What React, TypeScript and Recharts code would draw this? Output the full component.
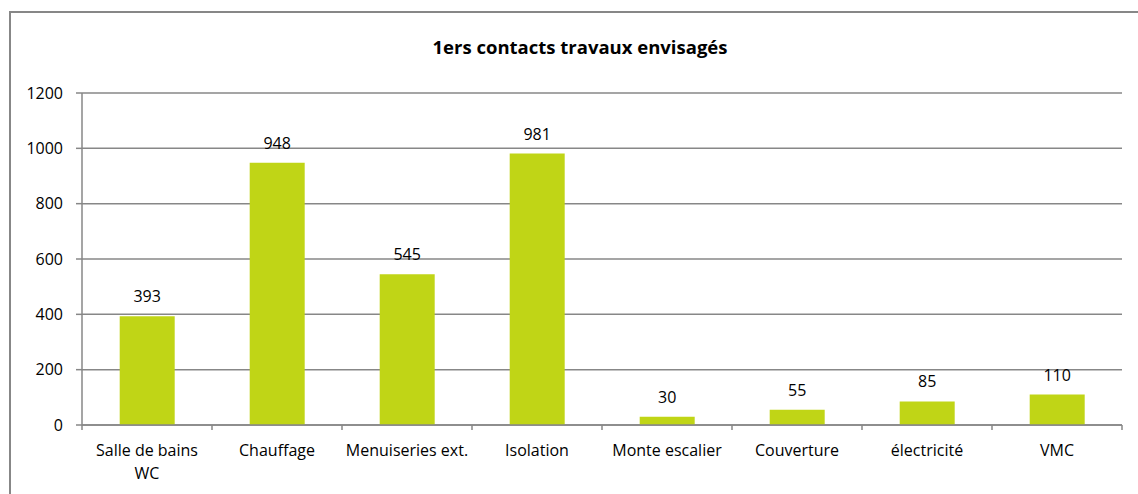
import React from "react";
import { BarChart, Bar, XAxis, YAxis, CartesianGrid, LabelList } from "recharts";

const categories = [
  "Salle de bains\nWC",
  "Chauffage",
  "Menuiseries ext.",
  "Isolation",
  "Monte escalier",
  "Couverture",
  "électricité",
  "VMC",
];
const values = [393, 948, 545, 981, 30, 55, 85, 110];
const yTicks = [0, 200, 400, 600, 800, 1000, 1200];
const title = "1ers contacts travaux envisagés";

const data = categories.map((c, i) => ({ name: c, value: values[i] }));

const W = 1138;
const H = 494;
const xAxisHeight = 30;
const margin = { top: 93, right: 16, bottom: 69 - xAxisHeight, left: 32 };
const yAxisWidth = 50;
const plotWidth = W - margin.left - margin.right - yAxisWidth;
const band = plotWidth / categories.length;
const FONT = "'Open Sans', sans-serif";
const GREY = "#878787";

const CatTick = (props: any) => {
  const { x, y, payload, index } = props;
  const lines = String(payload.value).split("\n");
  const top = y - 8; // axis line position
  return (
    <g>
      <line x1={x - band / 2} x2={x - band / 2} y1={top} y2={top + 5} stroke={GREY} strokeWidth={1.5} />
      {index === categories.length - 1 && (
        <line x1={x + band / 2} x2={x + band / 2} y1={top} y2={top + 5} stroke={GREY} strokeWidth={1.5} />
      )}
      <text x={x} y={top} textAnchor="middle" fontFamily={FONT} fontSize={16} fill="#000">
        {lines.map((l, i) => (
          <tspan key={i} x={x} dy={i === 0 ? 31 : 23}>
            {l}
          </tspan>
        ))}
      </text>
    </g>
  );
};

export default function App() {
  return (
    <div style={{ position: "fixed", left: 0, top: 0, width: W, height: H, overflow: "hidden", background: "#fff" }}>
      <div
        style={{
          position: "absolute",
          left: 9,
          top: 11,
          width: 1200,
          height: 600,
          border: `2px solid ${GREY}`,
        }}
      />
      <div
        style={{
          position: "absolute",
          left: 330,
          width: 500,
          top: 34,
          lineHeight: "26px",
          textAlign: "center",
          fontFamily: FONT,
          fontWeight: 700,
          fontSize: 18.5,
          color: "#000",
        }}
      >
        {title}
      </div>
      <div style={{ position: "absolute", left: 0, top: 0 }}>
        <BarChart width={W} height={H} data={data} margin={margin} barCategoryGap="29%">
          <CartesianGrid horizontal vertical={false} stroke={GREY} strokeWidth={1.5} />
          <XAxis
            dataKey="name"
            interval={0}
            height={xAxisHeight}
            axisLine={{ stroke: GREY, strokeWidth: 1.5 }}
            tickLine={false}
            tick={<CatTick />}
          />
          <YAxis
            width={yAxisWidth}
            domain={[0, 1200]}
            ticks={yTicks}
            interval={0}
            axisLine={{ stroke: GREY, strokeWidth: 1.5 }}
            tickLine={{ stroke: GREY, strokeWidth: 1.5 }}
            tickSize={6}
            tickMargin={13}
            tick={{ fontFamily: FONT, fontSize: 16, fill: "#000" }}
          />
          <Bar dataKey="value" fill="#C0D516" isAnimationActive={false}>
            <LabelList dataKey="value" position="top" offset={14} fontFamily={FONT} fontSize={16} fill="#000" />
          </Bar>
        </BarChart>
      </div>
    </div>
  );
}
